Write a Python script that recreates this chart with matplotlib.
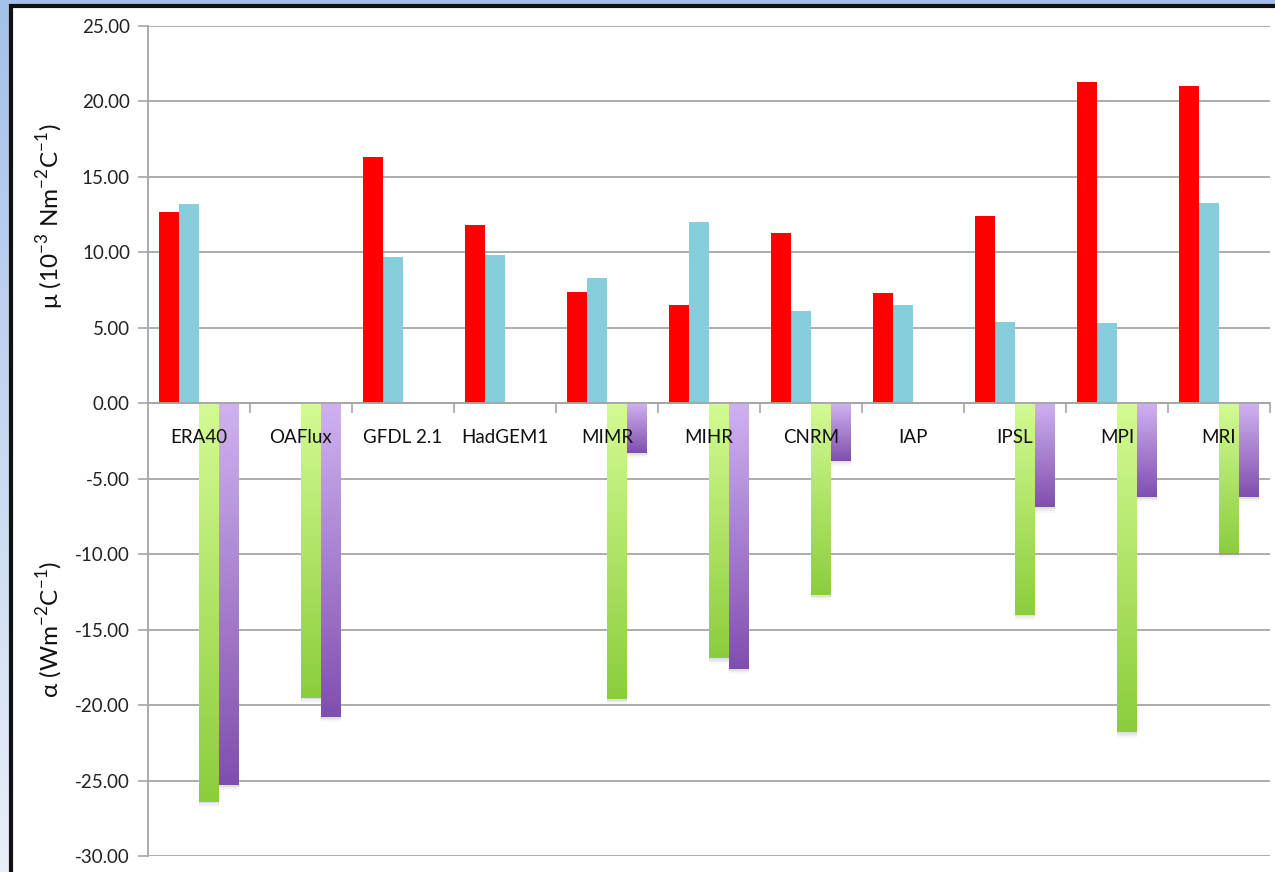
import numpy as np
import matplotlib
matplotlib.use("Agg")
import matplotlib.pyplot as plt
from matplotlib.patches import Rectangle
from matplotlib.colors import LinearSegmentedColormap

plt.rcParams['font.family'] = ['Lato', 'DejaVu Sans']

categories = ["ERA40", "OAFlux", "GFDL 2.1", "HadGEM1", "MIMR", "MIHR",
              "CNRM", "IAP", "IPSL", "MPI", "MRI"]
nan = np.nan
mu_red = [12.7, nan, 16.3, 11.8, 7.4, 6.5, 11.3, 7.3, 12.4, 21.3, 21.0]
mu_cyan = [13.2, nan, 9.7, 9.8, 8.3, 12.0, 6.1, 6.5, 5.4, 5.3, 13.3]
alpha_green = [-26.4, -19.5, nan, nan, -19.6, -16.9, -12.7, nan, -14.0, -21.8, -9.9]
alpha_purple = [-25.3, -20.8, nan, nan, -3.3, -17.6, -3.8, nan, -6.9, -6.2, -6.2]
y_ticks = [25, 20, 15, 10, 5, 0, -5, -10, -15, -20, -25, -30]

W, H = 1275, 872
fig = plt.figure(figsize=(W / 100, H / 100), dpi=100)

# slide-style background: blue gradient with a white framed panel
bg = fig.add_axes([0, 0, 1, 1], zorder=-10)
bg.set_axis_off()
grad = np.linspace(0, 1, 256).reshape(-1, 1)
bg_cmap = LinearSegmentedColormap.from_list("bg", ["#a4c1e9", "#e9eff9"])
bg.imshow(grad, cmap=bg_cmap, aspect='auto', extent=[0, 1, 0, 1], origin='upper')
bg.add_patch(Rectangle((11 / W, -0.05), 1.1, 1.05 - 6 / H,
                       transform=bg.transAxes, facecolor='white',
                       edgecolor='#111111', linewidth=3, zorder=2))
bg.set_xlim(0, 1)
bg.set_ylim(0, 1)

ax = fig.add_axes([148 / W, 1 - 856 / H, (1270 - 148) / W, (856 - 26) / H])
ax.set_facecolor('none')

n = len(categories)
x = np.arange(n)
w = 0.196

ax.bar(x - 1.5 * w, mu_red, w, color='#ff0000', zorder=3)
ax.bar(x - 0.5 * w, mu_cyan, w, color='#86cedc', zorder=3)
g_bars = ax.bar(x + 0.5 * w, alpha_green, w, color='none', zorder=3)
p_bars = ax.bar(x + 1.5 * w, alpha_purple, w, color='none', zorder=3)

green_cmap = LinearSegmentedColormap.from_list("g", ["#d3fb93", "#8ccd3c"])
purple_cmap = LinearSegmentedColormap.from_list("p", ["#d0b2f0", "#7f4fae"])
for bars, vals, cmap in ((g_bars, alpha_green, green_cmap),
                         (p_bars, alpha_purple, purple_cmap)):
    for patch, v in zip(bars, vals):
        if np.isnan(v):
            continue
        x0 = patch.get_x()
        pw = patch.get_width()
        # faint soft drop shadow under the bar end
        for k, a in ((0.35, 0.03), (0.22, 0.04), (0.12, 0.05)):
            ax.add_patch(Rectangle((x0 - 0.004, 0), pw + 0.008, v - k,
                                   facecolor='#000000', alpha=a,
                                   edgecolor='none', zorder=2))
        im = ax.imshow(grad, cmap=cmap, aspect='auto',
                       extent=[x0, x0 + pw, v, 0], origin='upper',
                       zorder=3.5)
        im.set_clip_path(patch)

ax.set_xlim(-0.5, n - 0.5)
ax.set_ylim(-30, 25)

# y axis
ax.set_yticks(y_ticks)
ax.set_yticklabels([f"{t:.2f}" for t in y_ticks], fontsize=13.5, color='#222222')
ax.yaxis.grid(True, color='#a6a6a6', linewidth=1.3, zorder=1)
ax.set_axisbelow(True)
ax.tick_params(axis='y', length=7, width=1.2, color='#a6a6a6', pad=6)

# category axis sits on zero
ax.spines['bottom'].set_position(('data', 0))
ax.spines['bottom'].set_color('#a6a6a6')
ax.spines['bottom'].set_linewidth(1.3)
ax.spines['bottom'].set_zorder(4)
ax.spines['left'].set_color('#a6a6a6')
ax.spines['left'].set_linewidth(1.3)
ax.spines['top'].set_visible(False)
ax.spines['right'].set_visible(False)
ax.set_xticks(np.arange(0.5, n, 1.0))
ax.set_xticklabels([])
ax.tick_params(axis='x', length=7, width=1.2, color='#a6a6a6', direction='out')

for xi, name in zip(x, categories):
    ax.text(xi, -2.25, name, ha='center', va='center', fontsize=13.5,
            color='#111111', zorder=6)

fig.text(50 / W, 1 - 216 / H, r"μ (10$^{\mathregular{-3}}$ Nm$^{\mathregular{-2}}$C$^{\mathregular{-1}}$)",
         rotation=90, ha='center', va='center', fontsize=17.5, color='#111111')
fig.text(50 / W, 1 - 630 / H, r"α (Wm$^{\mathregular{-2}}$C$^{\mathregular{-1}}$)",
         rotation=90, ha='center', va='center', fontsize=17.5, color='#111111')

fig.savefig("out.png", dpi=100)
